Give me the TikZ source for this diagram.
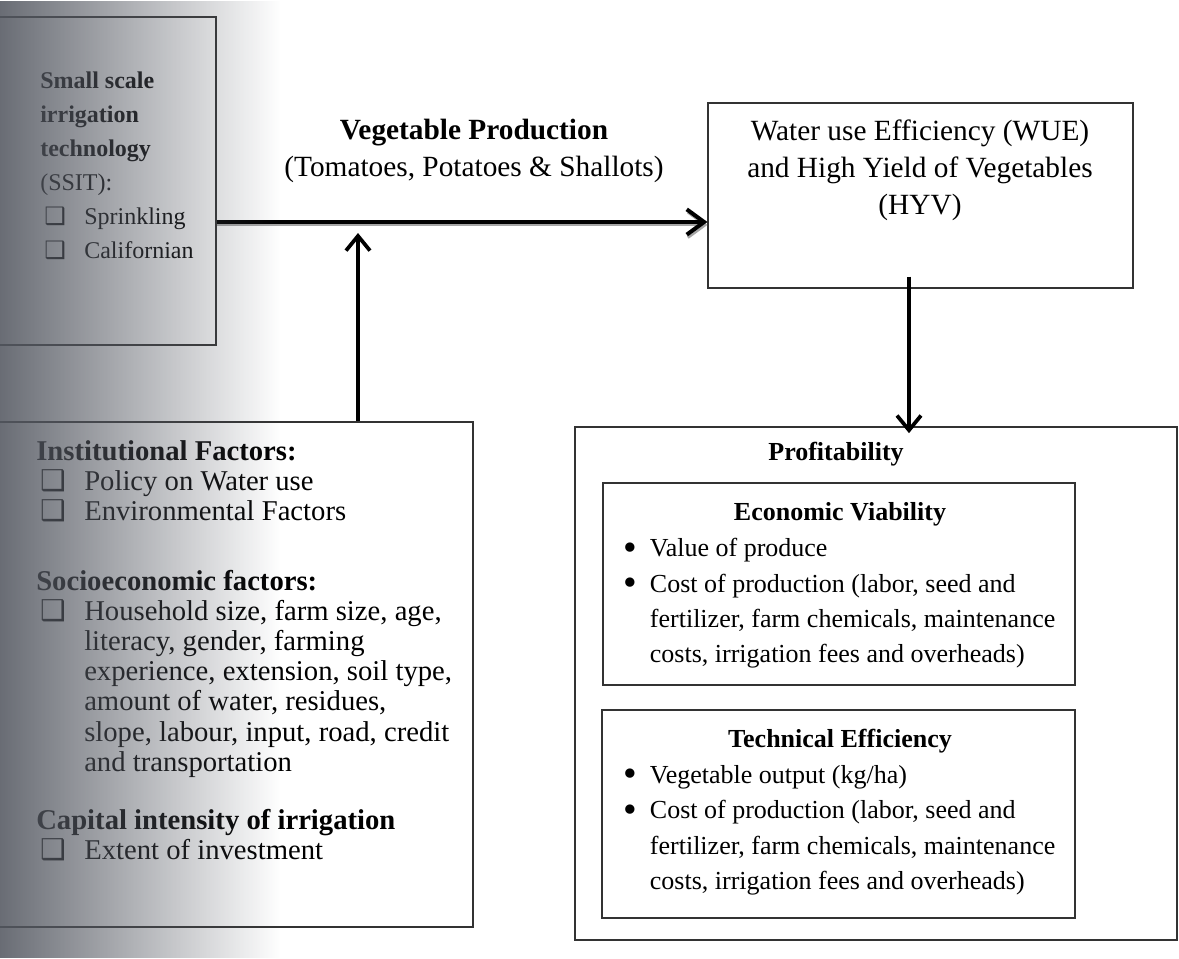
\documentclass[tikz,border=0pt]{standalone}
\usepackage{fontspec}
\setmainfont{Liberation Serif}
\newfontfamily\symfont{DejaVu Sans}
\usetikzlibrary{positioning,fit,fadings,arrows.meta}

\definecolor{spine}{RGB}{84,88,97}
\newcommand{\sqitem}[1][36pt]{\makebox[#1][l]{\hspace{3pt}{\symfont\char"2751}}}
\newcommand{\bulitem}{\makebox[17pt][l]{\hspace{-2.5pt}\raisebox{-2.6pt}{\scalebox{1.5}{\textbullet}}}}

\begin{document}
\begin{tikzpicture}[x=0.75pt,y=0.75pt,yscale=-1,
    box/.style={draw=black!80, line width=0.8pt, inner sep=0pt},
    lefttext/.style={anchor=north west, align=left, inner sep=0pt, font=\fontsize{21.5}{22.6}\selectfont},
    righttext/.style={anchor=north west, align=left, inner sep=0pt, font=\fontsize{19.5}{26.6}\selectfont},
    boxtitle/.style={inner sep=0pt, font=\bfseries\fontsize{19.5}{26.6}\selectfont},
    toptext/.style={align=center, inner sep=0pt, font=\fontsize{22}{27.75}\selectfont},
    flow/.style={-{Straight Barb[length=13pt,width=19pt]}, line width=3pt,
        preaction={draw=black!35, line width=2pt, transform canvas={yshift=-2.2pt}}},
    rise/.style={-{Straight Barb[length=11pt,width=18pt]}, line width=2.8pt}]
    \useasboundingbox (0,0) rectangle (1179,958);
    \clip (0,0) rectangle (1179,958);
    \fill[white] (0,0) rectangle (1179,958);

    % boxes
    \node[box, fit={(-20,17) (216,345)}] (tlbox) {};
    \node[box, fit={(-20,422) (473,927)}] (blbox) {};
    \node[box, fit={(708,103) (1133,288)}] (wue) {};
    \node[box, fit={(575,427) (1177,940)}] (profit) {};
    \node[box, fit={(603,483) (1075,685)}] (econ) {};
    \node[box, fit={(602,710) (1075,918)}] (tech) {};

    % texts
    \node (ssit) at (40,72) [anchor=north west, align=left, inner sep=0pt, font=\fontsize{18}{25.5}\selectfont]
        {\textbf{Small scale}\\\textbf{irrigation}\\\textbf{technology}\\(SSIT):\\\sqitem[33pt]Sprinkling\\\sqitem[33pt]Californian};
    \node (vegprod) at (474,151) [toptext] {\textbf{Vegetable Production}\\(Tomatoes, Potatoes \& Shallots)};
    \node (wuetext) at (920,170) [toptext] {Water use Efficiency (WUE)\\and High Yield of Vegetables\\(HYV)};

    \node (inst) at (36,440) [lefttext]
        {\textbf{Institutional Factors:}\\\sqitem Policy on Water use\\\sqitem Environmental Factors};
    \node (socio) at (36,570) [lefttext]
        {\textbf{Socioeconomic factors:}\\\sqitem Household size, farm size, age,\\\hspace*{36pt}literacy, gender, farming\\\hspace*{36pt}experience, extension, soil type,\\\hspace*{36pt}amount of water, residues,\\\hspace*{36pt}slope, labour, input, road, credit\\\hspace*{36pt}and transportation};
    \node (capital) at (36,809) [lefttext]
        {\textbf{Capital intensity of irrigation}\\\sqitem Extent of investment};

    \node (proftitle) at (836,454) [boxtitle] {Profitability};
    \node (econtitle) at (840,514) [boxtitle] {Economic Viability};
    \node (econlist) at (627,538) [righttext]
        {\bulitem Value of produce\\\bulitem Cost of production (labor, seed and\\\hspace*{17pt}fertilizer, farm chemicals, maintenance\\\hspace*{17pt}costs, irrigation fees and overheads)};
    \node (techtitle) at (840,741) [boxtitle] {Technical Efficiency};
    \node (techlist) at (627,765) [righttext]
        {\bulitem Vegetable output (kg/ha)\\\bulitem Cost of production (labor, seed and\\\hspace*{17pt}fertilizer, farm chemicals, maintenance\\\hspace*{17pt}costs, irrigation fees and overheads)};

    % arrows
    \coordinate (prod) at (216,222);
    \coordinate (upend) at (358,233);
    \coordinate (dnx) at (909,0);
    \draw[flow] (tlbox.east |- prod) -- (wue.west |- prod);
    \draw[rise] (blbox.north -| upend) -- (upend);
    \draw[rise] ([yshift=-9pt]wue.south -| dnx) -- ([yshift=5pt]profit.north -| dnx);

    % shadow of the page fold
    \fill[spine, path fading=east] (-40,0) rectangle (280,958);
\end{tikzpicture}
\end{document}
